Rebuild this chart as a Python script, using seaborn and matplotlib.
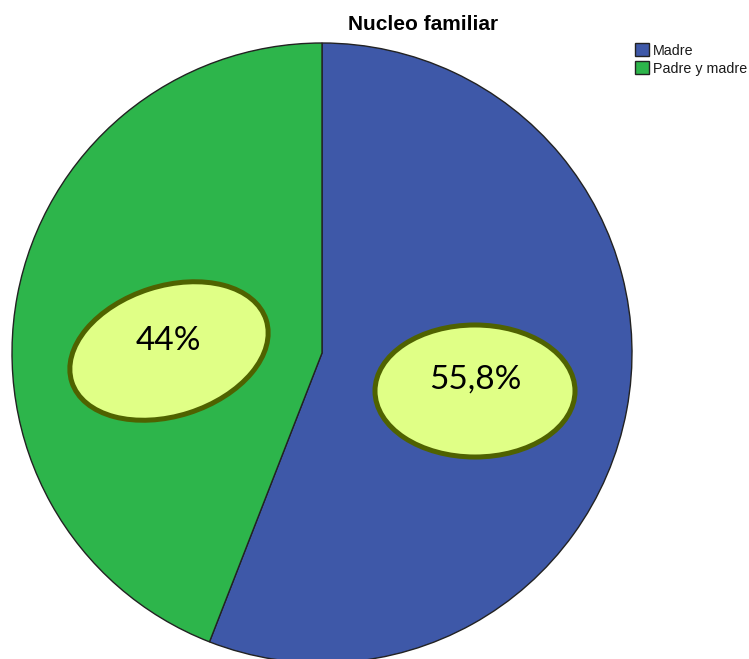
import numpy as np
import matplotlib
matplotlib.use("Agg")
import matplotlib.pyplot as plt
from matplotlib.patches import Ellipse
import seaborn as sns

# data
categories = ["Madre", "Padre y madre"]
percentages = [55.8, 44.0]
pct_labels = ["55,8%", "44%"]
colors = ["#3e58a8", "#2db54b"]

sns.set_theme(style="white")
plt.rcParams['font.family'] = ['Liberation Sans', 'DejaVu Sans']

W, H = 749, 659
fig = plt.figure(figsize=(W / 100, H / 100), dpi=100)
ax = fig.add_axes([0, 0, 1, 1])

# pie, drawn in pixel-like coordinates (y from the bottom)
cx, cy, r = 322, H - 353, 310
wedges, _ = ax.pie(percentages, colors=colors, startangle=90, counterclock=False,
                   center=(cx, cy), radius=r, frame=True,
                   wedgeprops=dict(edgecolor="#222222", linewidth=1.0))
ax.set_xlim(0, W)
ax.set_ylim(0, H)
ax.set_aspect('equal')
ax.axis('off')

# label bubbles
bubbles = [(475, H - 391, 200, 132, 0), (169, H - 351, 204, 130, 17.7)]
text_pos = [(475, H - 380), (168, H - 341)]
for (ex, ey, ew, eh, ang), (tx, ty), lab in zip(bubbles, text_pos, pct_labels):
    ax.add_patch(Ellipse((ex, ey), ew, eh, angle=ang, facecolor="#e0ff86",
                         edgecolor="#4f6200", linewidth=3.6, zorder=5))
    ax.text(tx, ty, lab, ha='center', va='center', fontsize=24,
            family=['Lato', 'DejaVu Sans'], color='black', zorder=6)

fig.text(423 / W, 1 - 25 / H, "Nucleo familiar", ha='center', va='center',
         fontsize=15, fontweight='bold', color='black')

leg = ax.legend(wedges, categories, loc='upper left', bbox_to_anchor=(635 / W, 1 - 43 / H),
                bbox_transform=fig.transFigure, frameon=False, fontsize=10.3,
                handlelength=0.95, handleheight=1.05, handletextpad=0.3,
                labelspacing=0.25, borderpad=0, borderaxespad=0)
for h in leg.legend_handles:
    h.set_edgecolor("#222222")
for t in leg.get_texts():
    t.set_color("#1a1a1a")

fig.savefig("out.png", dpi=100)
